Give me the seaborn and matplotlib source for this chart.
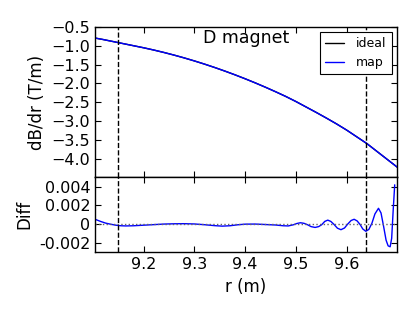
import numpy as np
import pandas as pd
import seaborn as sns
import matplotlib
matplotlib.use("Agg")
import matplotlib.pyplot as plt

# gradient along r
r_top = [9.10, 9.12, 9.14, 9.16, 9.18, 9.20, 9.22, 9.24, 9.26, 9.28, 9.30,
         9.32, 9.34, 9.36, 9.38, 9.40, 9.42, 9.44, 9.46, 9.48, 9.50, 9.52,
         9.54, 9.56, 9.58, 9.60, 9.62, 9.64, 9.66, 9.68, 9.70]
dbdr_ideal = [-0.78, -0.83, -0.885, -0.94, -0.995, -1.05, -1.11, -1.175, -1.245,
              -1.32, -1.40, -1.485, -1.575, -1.67, -1.77, -1.875, -1.985, -2.10,
              -2.22, -2.345, -2.48, -2.625, -2.77, -2.92, -3.075, -3.24, -3.42,
              -3.60, -3.81, -4.02, -4.23]
dbdr_map = list(dbdr_ideal)

# map - ideal (bottom panel)
r_diff = [9.104, 9.115, 9.125, 9.135, 9.145, 9.155, 9.165, 9.18, 9.20, 9.22,
          9.24, 9.26, 9.28, 9.30, 9.32, 9.34, 9.355, 9.37, 9.385, 9.40, 9.42,
          9.44, 9.46, 9.475, 9.485, 9.495, 9.502, 9.509, 9.516, 9.523, 9.530,
          9.538, 9.545, 9.551, 9.557, 9.563, 9.569, 9.575, 9.582, 9.589, 9.596,
          9.602, 9.609, 9.615, 9.621, 9.627, 9.632, 9.638, 9.644, 9.650, 9.656,
          9.663, 9.668, 9.673, 9.678, 9.682, 9.686, 9.689, 9.692, 9.695]
diff = [0.00053, 0.00030, 0.00012, 0.00000, -0.00010, -0.00016, -0.00018,
        -0.00016, -0.00010, -0.00004, 0.00002, 0.00005, 0.00006, 0.00003,
        -0.00005, -0.00015, -0.00020, -0.00016, -0.00006, 0.00001, 0.00002,
        -0.00003, -0.00008, -0.00016, -0.00018, -0.00006, 0.00008, 0.00016,
        0.00010, -0.00005, -0.00025, -0.00034, -0.00025, -0.00005, 0.00030,
        0.00044, 0.00030, 0.00000, -0.00042, -0.00058, -0.00040, 0.00000,
        0.00040, 0.00053, 0.00035, -0.00005, -0.00050, -0.00075, -0.00055,
        0.00010, 0.00110, 0.00170, 0.00120, -0.00020, -0.00170, -0.00230,
        -0.00240, -0.00150, 0.00150, 0.00420]

edges_r = [9.15, 9.6375]

x_ticks = [9.2, 9.3, 9.4, 9.5, 9.6]
top_ticks = [-4.0, -3.5, -3.0, -2.5, -2.0, -1.5, -1.0, -0.5]
diff_ticks = [-0.002, 0.0, 0.002, 0.004]
diff_labels = ["-0.002", "0", "0.002", "0.004"]

sns.set_style("ticks")
plt.rcParams["font.family"] = ["DejaVu Sans"]
plt.rcParams["text.color"] = "k"
plt.rcParams["axes.labelcolor"] = "k"
plt.rcParams["xtick.color"] = "k"
plt.rcParams["ytick.color"] = "k"
plt.rcParams["xtick.direction"] = "in"
plt.rcParams["ytick.direction"] = "in"

fig = plt.figure(figsize=(4.15, 3.12), dpi=100)
gs = fig.add_gridspec(2, 1, height_ratios=[2, 1], hspace=0,
                      left=0.229, right=0.956, top=0.913, bottom=0.191)
ax1 = fig.add_subplot(gs[0])
ax2 = fig.add_subplot(gs[1], sharex=ax1)

df_top = pd.DataFrame({"r": r_top, "ideal": dbdr_ideal, "map": dbdr_map})
sns.lineplot(data=df_top, x="r", y="ideal", ax=ax1, color="k", lw=1, label="ideal")
sns.lineplot(data=df_top, x="r", y="map", ax=ax1, color="b", lw=1, label="map")
for xe in edges_r:
    ax1.axvline(xe, color="k", ls="--", lw=1)

ax1.set_ylim(-4.5, -0.5)
ax1.set_yticks(top_ticks)
ax1.set_ylabel("dB/dr (T/m)", fontsize=12)
ax1.set_xlabel("")
ax1.text(0.5, 0.93, "D magnet", transform=ax1.transAxes, ha="center",
         va="center", fontsize=12.5, color="k")
leg = ax1.legend(loc="upper right", fontsize=9, fancybox=False, framealpha=1,
                 edgecolor="k", borderaxespad=0.4, handlelength=1.5,
                 handletextpad=1.0)
leg.get_frame().set_linewidth(0.8)
for t in leg.get_texts():
    t.set_color("k")
plt.setp(ax1.get_xticklabels(), visible=False)

df_diff = pd.DataFrame({"r": r_diff, "diff": diff})
sns.lineplot(data=df_diff, x="r", y="diff", ax=ax2, color="b", lw=1)
ax2.axhline(0, color="0.4", ls=":", lw=1)
for xe in edges_r:
    ax2.axvline(xe, color="k", ls="--", lw=1)

ax2.set_ylim(-0.003, 0.005)
ax2.set_yticks(diff_ticks)
ax2.set_yticklabels(diff_labels)
ax2.set_ylabel("Diff", fontsize=12)
ax2.set_xlabel("r (m)", fontsize=12)
ax2.set_xlim(9.104, 9.699)
ax2.set_xticks(x_ticks)
ax2.set_xticklabels([str(v) for v in x_ticks])

for ax in (ax1, ax2):
    for s in ax.spines.values():
        s.set_visible(True)
        s.set_color("k")
        s.set_linewidth(1)
    ax.tick_params(which="both", top=True, right=True, direction="in",
                   length=4, width=0.8, labelsize=11.5, colors="k")

fig.savefig("out.png", dpi=100)
